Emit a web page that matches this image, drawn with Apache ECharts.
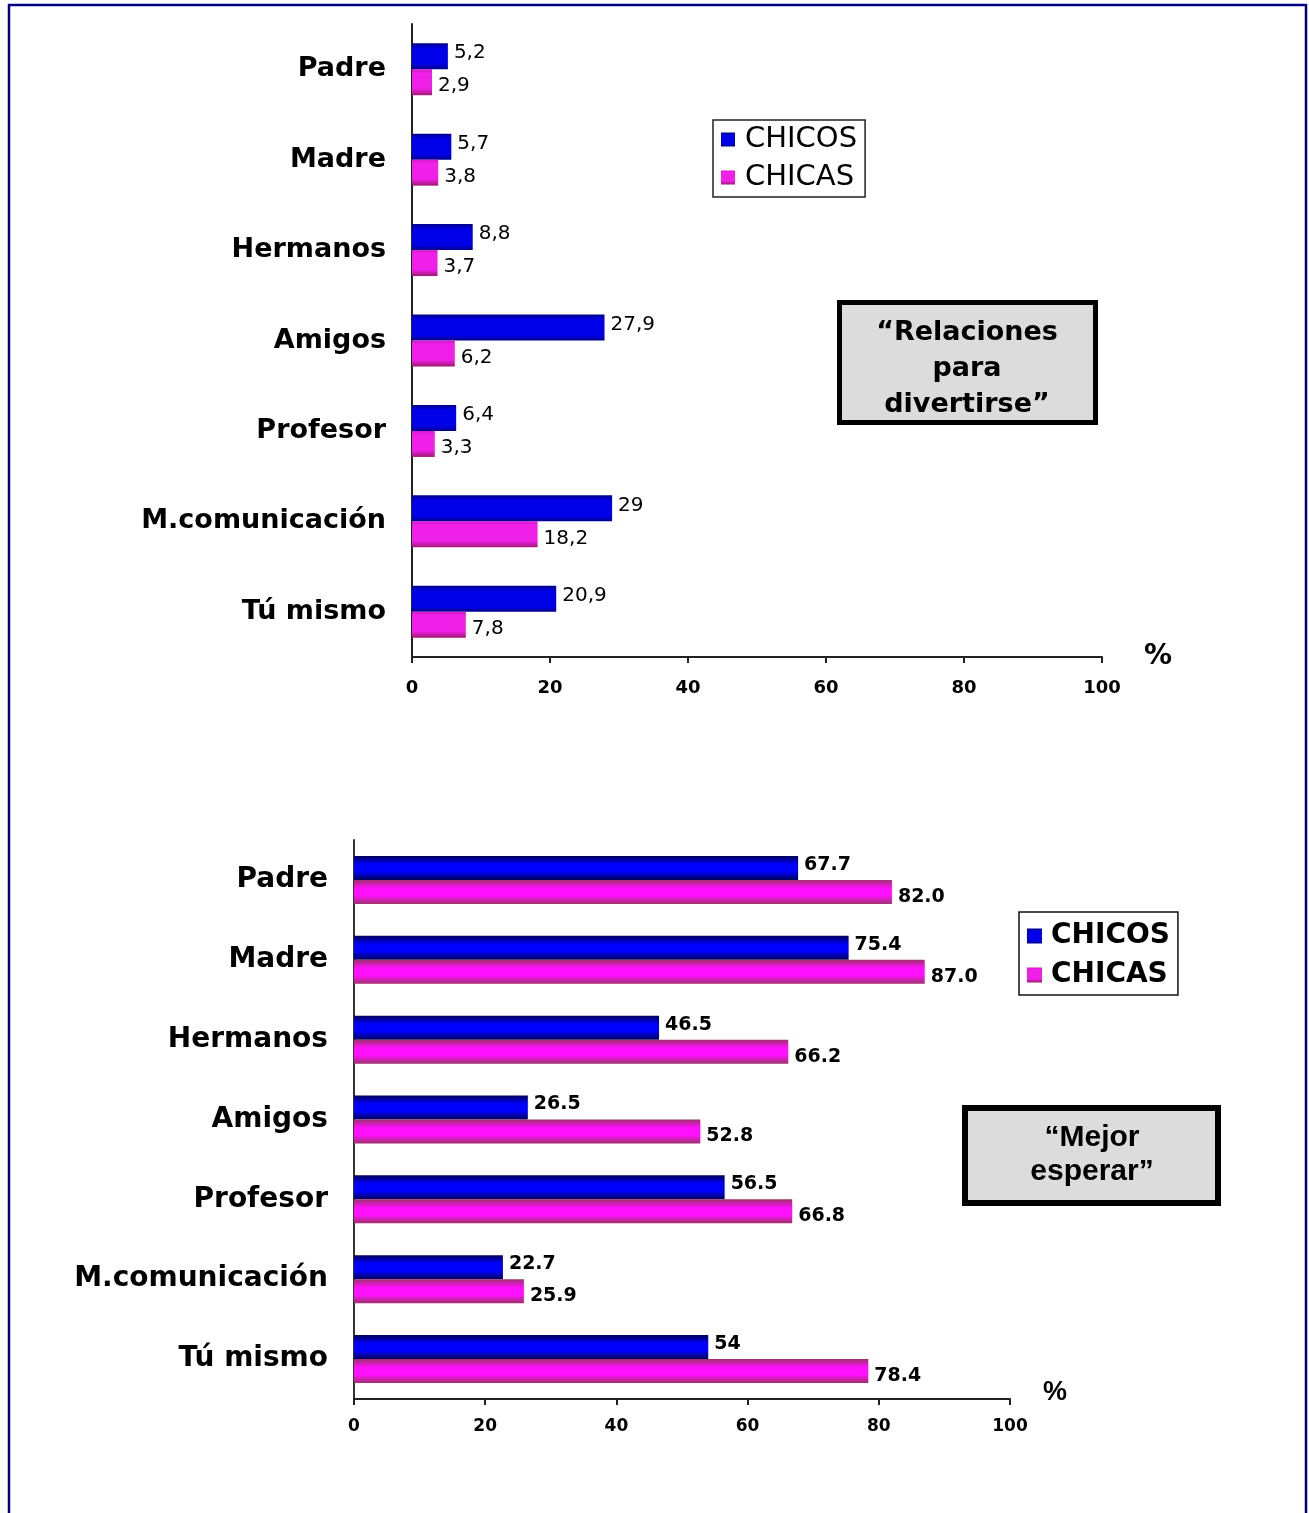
<!DOCTYPE html>
<html><head><meta charset="utf-8">
<script src="https://cdn.jsdelivr.net/npm/echarts@6/dist/echarts.min.js"></script>
<style>html,body{margin:0;padding:0;background:#fff}#c{width:1309px;height:1513px}</style>
</head><body><div id="c"></div>
<script>
const categories = ['Padre','Madre','Hermanos','Amigos','Profesor','M.comunicación','Tú mismo'];
const chicosDivertirse = [5.2,5.7,8.8,27.9,6.4,29,20.9];
const chicasDivertirse = [2.9,3.8,3.7,6.2,3.3,18.2,7.8];
const chicosEsperar = [67.7,75.4,46.5,26.5,56.5,22.7,54];
const chicasEsperar = [82.0,87.0,66.2,52.8,66.8,25.9,78.4];
const chicosEsperarLabels = ['67.7','75.4','46.5','26.5','56.5','22.7','54'];
const chicasEsperarLabels = ['82.0','87.0','66.2','52.8','66.8','25.9','78.4'];
const seriesNames = ['CHICOS','CHICAS'];
const titleTop = '“Relaciones\npara\ndivertirse”';
const titleBottom = '“Mejor\nesperar”';
const unitLabel = '%';

function grad(edge, mid, a, b) {
  return new echarts.graphic.LinearGradient(0,0,0,1,[
    {offset:0,color:edge},{offset:a,color:mid},{offset:b,color:mid},{offset:1,color:edge}]);
}
const blueTop = grad('#00008a','#0000e8',0.2,0.8);
const pinkTop = new echarts.graphic.LinearGradient(0,0,0,1,[
  {offset:0,color:'#d018c8'},{offset:0.15,color:'#f020e8'},{offset:0.75,color:'#f020e8'},{offset:1,color:'#a01870'}]);
const blueBot = grad('#000058','#0000ff',0.35,0.65);
const pinkBot = grad('#a0306a','#ff10ff',0.35,0.65);

const chart = echarts.init(document.getElementById('c'), null, {renderer:'canvas'});
const catFont = 'DejaVu Sans';
const option = {
  backgroundColor:'#ffffff',
  animation:false,
  grid:[
    {left:412, top:24, width:690, height:633},
    {left:354, top:840, width:656, height:559}
  ],
  xAxis:[
    {gridIndex:0, type:'value', min:0, max:100, interval:20,
     name:unitLabel, nameLocation:'end', nameGap:42,
     nameTextStyle:{fontFamily:catFont, fontWeight:'bold', fontSize:28, color:'#000', verticalAlign:'middle'},
     axisLine:{show:true, lineStyle:{color:'#222', width:2}},
     axisTick:{show:true, length:6, lineStyle:{color:'#222', width:2}},
     axisLabel:{margin:22, fontFamily:catFont, fontWeight:'bold', fontSize:18, color:'#000'},
     splitLine:{show:false}},
    {gridIndex:1, type:'value', min:0, max:100, interval:20,
     axisLine:{show:true, lineStyle:{color:'#222', width:2}},
     axisTick:{show:true, length:6, lineStyle:{color:'#222', width:2}},
     axisLabel:{margin:19, fontFamily:catFont, fontWeight:'bold', fontSize:17, color:'#000'},
     splitLine:{show:false}}
  ],
  yAxis:[
    {gridIndex:0, type:'category', data:categories, inverse:true,
     axisLine:{show:true, lineStyle:{color:'#222', width:2}},
     axisTick:{show:false},
     axisLabel:{margin:26, fontFamily:catFont, fontWeight:'bold', fontSize:27, color:'#000'}},
    {gridIndex:1, type:'category', data:categories, inverse:true,
     axisLine:{show:true, lineStyle:{color:'#333', width:2}},
     axisTick:{show:false},
     axisLabel:{margin:26, fontFamily:catFont, fontWeight:'bold', fontSize:28, color:'#000'}}
  ],
  legend:[
    {left:713, top:120, orient:'vertical', data:seriesNames,
     icon:'rect', itemWidth:14, itemHeight:14, itemGap:9,
     padding:[5,8,5,8], borderColor:'#222', borderWidth:1.5, backgroundColor:'#fff',
     selectedMode:false,
     textStyle:{fontFamily:catFont, fontSize:29, color:'#000', lineHeight:29, padding:[0,0,0,5]}},
    {left:1019, top:912, orient:'vertical', data:seriesNames,
     icon:'rect', itemWidth:15, itemHeight:15, itemGap:9,
     padding:[9,8,5,8], borderColor:'#111', borderWidth:1.5, backgroundColor:'#fff',
     selectedMode:false,
     textStyle:{fontFamily:catFont, fontWeight:'bold', fontSize:28, color:'#000', lineHeight:30, padding:[0,0,0,4]}}
  ],
  series:[
    {name:seriesNames[0], type:'bar', xAxisIndex:0, yAxisIndex:0, data:chicosDivertirse,
     barWidth:26, barGap:'0%', itemStyle:{color:blueTop},
     label:{show:true, position:'right', distance:6, offset:[0,-3], color:'#000', fontFamily:catFont, fontSize:20,
       formatter:p=>String(p.value).replace('.',',')}},
    {name:seriesNames[1], type:'bar', xAxisIndex:0, yAxisIndex:0, data:chicasDivertirse,
     barWidth:26, barGap:'0%', itemStyle:{color:pinkTop},
     label:{show:true, position:'right', distance:6, offset:[0,4], color:'#000', fontFamily:catFont, fontSize:20,
       formatter:p=>String(p.value).replace('.',',')}},
    {name:seriesNames[0], type:'bar', xAxisIndex:1, yAxisIndex:1, data:chicosEsperar,
     barWidth:24, barGap:'0%', itemStyle:{color:blueBot},
     label:{show:true, position:'right', distance:6, offset:[0,-3], color:'#000', fontFamily:catFont, fontWeight:'bold', fontSize:19,
       formatter:p=>chicosEsperarLabels[p.dataIndex]}},
    {name:seriesNames[1], type:'bar', xAxisIndex:1, yAxisIndex:1, data:chicasEsperar,
     barWidth:24, barGap:'0%', itemStyle:{color:pinkBot},
     label:{show:true, position:'right', distance:6, offset:[0,5], color:'#000', fontFamily:catFont, fontWeight:'bold', fontSize:19,
       formatter:p=>chicasEsperarLabels[p.dataIndex]}}
  ],
  graphic:[
    {type:'polyline', shape:{points:[[9,1513],[9,5],[1306,5],[1306,1513]]},
     style:{stroke:'#000080', lineWidth:2.5, fill:null}, silent:true},
    {type:'rect', shape:{x:839.5, y:302.5, width:256, height:120},
     style:{fill:'#dcdcdc', stroke:'#000', lineWidth:5}},
    {type:'text', x:967, y:369,
     style:{text:titleTop, fill:'#000', font:'bold 27px "DejaVu Sans"', lineHeight:36,
       textAlign:'center', textVerticalAlign:'middle', align:'center', verticalAlign:'middle'}},
    {type:'rect', shape:{x:965, y:1108, width:253, height:95},
     style:{fill:'#dcdcdc', stroke:'#000', lineWidth:6}},
    {type:'text', x:1092, y:1155,
     style:{text:titleBottom, fill:'#000', font:'bold 30px "Liberation Sans"', lineHeight:34,
       textAlign:'center', textVerticalAlign:'middle', align:'center', verticalAlign:'middle'}},
    {type:'text', x:1043, y:1393,
     style:{text:unitLabel, fill:'#000', font:'bold 27px "Liberation Sans"',
       textAlign:'left', textVerticalAlign:'middle', align:'left', verticalAlign:'middle'}}
  ]
};
chart.setOption(option);
</script>
</body></html>
